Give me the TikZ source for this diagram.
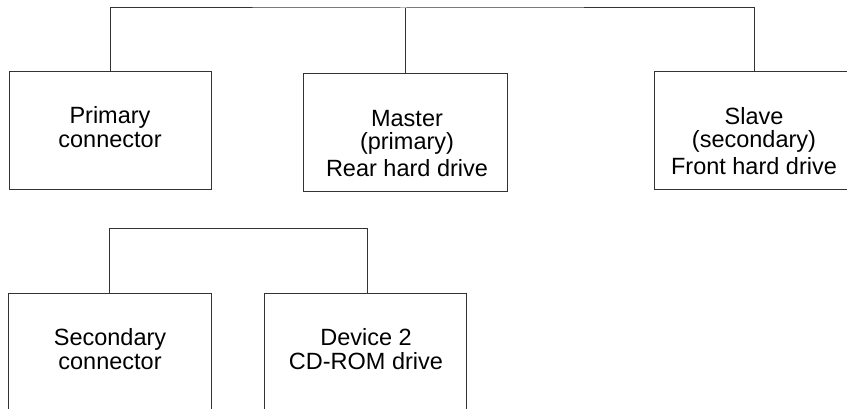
\documentclass[tikz,border=0pt]{standalone}
\usepackage{fontspec}
\setmainfont{Liberation Sans}
\begin{document}
\begin{tikzpicture}[x=1pt,y=-1pt,
  box/.style={draw=black!80,line width=1pt,inner sep=0pt},
  txt/.style={anchor=base,inner sep=0pt,font=\fontsize{23.5}{28}\selectfont},
  wire/.style={draw=black!80,line width=1pt}]
\useasboundingbox (0,0) rectangle (847,409);
\clip (0,0) rectangle (847,409);
% boxes
\node[box,minimum width=202pt,minimum height=118pt] (prim) at (110,131) {};
\node[box,minimum width=204pt,minimum height=118pt] (master) at (405,133) {};
\node[box,minimum width=200pt,minimum height=118pt] (slave) at (754,131) {};
\node[box,minimum width=203pt,minimum height=150pt] (sec) at (109.5,368) {};
\node[box,minimum width=202pt,minimum height=150pt] (dev) at (365,368) {};
% texts
\node[txt] (p1) at (110,124) {Primary};
\node[txt] (p2) at (110,148) {connector};
\node[txt] (m1) at (407,127) {Master};
\node[txt] (m2) at (407,150) {(primary)};
\node[txt] (m3) at (407,177) {Rear hard drive};
\node[txt] (s1) at (754,125) {Slave};
\node[txt] (s2) at (754,148) {(secondary)};
\node[txt] (s3) at (754,175) {Front hard drive};
\node[txt] (c1) at (110,345) {Secondary};
\node[txt] (c2) at (110,369) {connector};
\node[txt] (d1) at (366,345) {Device 2};
\node[txt] (d2) at (366,369) {CD-ROM drive};
% buses
\coordinate (bus1) at (403,8);
\coordinate (bus2) at (367,229);
\draw[wire] (prim.north) |- (bus1) -| (slave.north);
\draw[wire] (master.north) -- (master.north |- bus1);
\draw[wire] (sec.north) |- (bus2) -- (bus2 |- dev.north);
\end{tikzpicture}
\end{document}
